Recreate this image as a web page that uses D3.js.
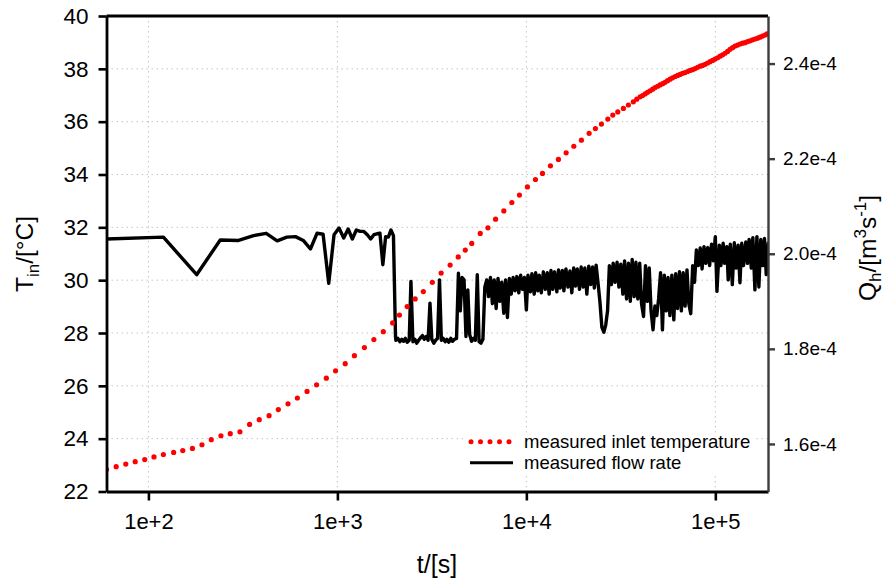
<!DOCTYPE html>
<html>
<head>
<meta charset="utf-8">
<script src="https://cdn.jsdelivr.net/npm/d3@7"></script>
<style>
body { margin: 0; background: #fff; }
text { font-family: "Liberation Sans", Arial, sans-serif; fill: #000; }
</style>
</head>
<body>
<svg id="chart" width="886" height="585"></svg>
<script>
// measured inlet temperature (t in s, T in °C)
const tempTime = [60, 67.5, 75.9, 85.1, 95.6, 107, 120, 136, 152, 171,
    192, 215, 242, 271, 305, 343, 386, 435, 487, 548,
    614, 691, 776, 874, 978, 1100, 1230, 1390, 1560, 1750,
    1960, 2130, 2340, 2580, 2850, 3180, 3540, 3950, 4360, 4750,
    5140, 5700, 6260, 6870, 7600, 8380, 9190, 10130, 11170, 12170,
    13410, 14780, 16240, 17830, 19550, 21480, 23200, 24960, 26980, 28670,
    30460, 32620, 34660, 36830, 38400,
    40000, 41200, 42500, 43800, 45200, 46600, 48000, 49500, 51000, 52600,
    54200, 55900, 57600, 59400, 61300, 63200, 65100, 67100, 69200, 71300,
    73500, 75800, 78200, 80600, 83100, 85600, 88300, 91000, 93800, 96700,
    99700, 102800, 106000, 109200, 112600, 116100, 119700, 123400, 127200, 131100,
    135200, 139400, 143700, 148100, 152700, 157400, 162300, 167300, 172500, 177800,
    183300, 187800];
const tempValue = [22.83, 22.94, 23.04, 23.13, 23.21, 23.31, 23.40, 23.48, 23.55, 23.63,
    23.77, 23.96, 24.11, 24.19, 24.26, 24.54, 24.72, 24.87, 25.10, 25.32,
    25.54, 25.79, 26.04, 26.29, 26.57, 26.84, 27.14, 27.45, 27.75, 28.05,
    28.38, 28.68, 29.00, 29.29, 29.57, 29.92, 30.27, 30.57, 30.88, 31.14,
    31.39, 31.77, 31.98, 32.31, 32.62, 32.94, 33.22, 33.53, 33.81, 34.04,
    34.33, 34.57, 34.82, 35.07, 35.30, 35.56, 35.74, 35.91, 36.10, 36.25,
    36.37, 36.50, 36.63, 36.75, 36.85,
    36.94, 36.99, 37.05, 37.11, 37.17, 37.23, 37.29, 37.34, 37.39, 37.44,
    37.49, 37.55, 37.61, 37.66, 37.71, 37.75, 37.79, 37.83, 37.86, 37.90,
    37.94, 37.97, 38.01, 38.06, 38.10, 38.13, 38.17, 38.22, 38.27, 38.32,
    38.37, 38.42, 38.48, 38.53, 38.59, 38.66, 38.74, 38.80, 38.86, 38.90,
    38.94, 38.97, 38.99, 39.03, 39.06, 39.10, 39.13, 39.16, 39.20, 39.24,
    39.28, 39.32];

// measured flow rate (t in s, Q in 1e-4 m^3/s)
const flowTime = [60, 120, 180, 240, 300, 360, 420, 480, 540, 600,
    660, 720, 780, 840, 900, 960, 1020, 1080, 1140, 1200,
    1260, 1320, 1380, 1440, 1500, 1560, 1620, 1680, 1740, 1800,
    1860, 1920, 1980,
    2030, 2040, 2090, 2140, 2190, 2240, 2290, 2340, 2400, 2450,
    2510, 2570, 2630, 2690, 2750, 2820, 2880, 2950, 3020, 3090,
    3160, 3240, 3310, 3390, 3470, 3550, 3630, 3720, 3800, 3890,
    3980, 4070, 4170, 4270, 4370, 4470, 4570, 4680, 4790, 4900,
    5010, 5130, 5250, 5370, 5500, 5620, 5750, 5890, 6030, 6170,
    6310, 6460, 6610, 6760, 6920, 7080, 7240, 7410, 7590, 7760,
    7940, 8130, 8320, 8510, 8710, 8910, 9120, 9330, 9550, 9770,
    10000, 10200, 10500, 10700, 11000, 11200, 11500, 11700, 12000, 12300,
    12600, 12900, 13200, 13500, 13800, 14100, 14500, 14800, 15100, 15500,
    15800, 16200, 16600, 17000, 17400, 17800, 18200, 18600, 19100, 19500,
    20000, 20400, 20900, 21400, 21900, 22400, 22900, 23400, 24000, 24500,
    25100, 25700, 26300, 26900, 27500, 28200, 28800, 29500, 30200, 30900,
    31600, 32400, 33100, 33900, 34700, 35500, 36300, 37200, 38000, 38900,
    39800, 40700, 41700, 42700, 43700, 44700, 45700, 46800, 47900, 49000,
    50100, 51300, 52500, 53700, 55000, 56200, 57500, 58900, 60300, 61700,
    63100, 64600, 66100, 67600, 69200, 70800, 72400, 74100, 75900, 77600,
    79400, 81300, 83200, 85100, 87100, 89100, 91200, 93300, 95500, 97700,
    100000, 102000, 105000, 107000, 110000, 112000, 115000, 117000, 120000, 123000,
    126000, 129000, 132000, 135000, 138000, 141000, 145000, 148000, 151000, 155000,
    158000, 162000, 166000, 170000, 174000, 178000, 182000, 186000, 191000];
const flowValue = [2.031, 2.035, 1.956, 2.029, 2.028, 2.038, 2.043, 2.027, 2.035, 2.036,
    2.028, 2.010, 2.043, 2.041, 1.938, 2.040, 2.054, 2.033, 2.052, 2.031,
    2.050, 2.047, 2.047, 2.040, 2.031, 2.040, 2.042, 2.043, 1.977, 2.036,
    2.035, 2.050, 2.038,
    1.826, 1.818, 1.822, 1.815, 1.820, 1.816, 1.822, 1.814, 1.818, 1.942,
    1.815, 1.820, 1.812, 1.818, 1.823, 1.828, 1.820, 1.826, 1.818, 1.896,
    1.820, 1.812, 1.818, 1.822, 1.945, 1.818, 1.822, 1.815, 1.820, 1.814,
    1.822, 1.816, 1.820, 1.822, 1.959, 1.880, 1.950, 1.945, 1.826, 1.924,
    1.830, 1.816, 1.822, 1.818, 1.956, 1.815, 1.812, 1.820, 1.930, 1.945,
    1.910, 1.950, 1.895, 1.945, 1.885, 1.948, 1.900, 1.940, 1.875, 1.945,
    1.866, 1.948, 1.915, 1.950, 1.922, 1.952, 1.918, 1.955, 1.925, 1.950,
    1.882, 1.955, 1.920, 1.958, 1.915, 1.960, 1.922, 1.955, 1.918, 1.962,
    1.925, 1.960, 1.915, 1.965, 1.925, 1.962, 1.920, 1.966, 1.928, 1.965,
    1.922, 1.968, 1.930, 1.964, 1.918, 1.970, 1.932, 1.968, 1.925, 1.972,
    1.930, 1.970, 1.915, 1.974, 1.935, 1.972, 1.928, 1.976, 1.935, 1.900,
    1.845, 1.835, 1.850, 1.880, 1.975, 1.935, 1.980, 1.940, 1.982, 1.930,
    1.978, 1.915, 1.985, 1.905, 1.980, 1.900, 1.988, 1.910, 1.982, 1.905,
    1.980, 1.895, 1.868, 1.975, 1.900, 1.970, 1.880, 1.840, 1.890, 1.870,
    1.905, 1.960, 1.840, 1.955, 1.880, 1.950, 1.870, 1.955, 1.861, 1.958,
    1.885, 1.962, 1.880, 1.960, 1.890, 1.966, 1.895, 1.874, 1.975, 1.940,
    2.008, 1.975, 2.012, 1.968, 2.015, 1.980, 2.013, 1.975, 2.020, 1.985,
    2.036, 1.921, 2.018, 1.975, 2.022, 1.980, 2.015, 1.945, 2.020, 1.935,
    2.023, 1.970, 2.018, 1.939, 2.022, 1.975, 2.025, 1.980, 2.030, 1.970,
    2.034, 1.924, 2.036, 1.930, 2.030, 1.975, 2.032, 1.956, 2.025];

const xTicks = [1e2, 1e3, 1e4, 1e5];
const xTickLabels = ["1e+2", "1e+3", "1e+4", "1e+5"];
const leftTicks = [22, 24, 26, 28, 30, 32, 34, 36, 38, 40];
const rightTicks = [1.6, 1.8, 2.0, 2.2, 2.4];
const rightTickLabels = ["1.6e-4", "1.8e-4", "2.0e-4", "2.2e-4", "2.4e-4"];
const legendLabels = ["measured inlet temperature", "measured flow rate"];

const svg = d3.select("#chart");
const L = 106.5, R = 768, T = 16, B = 491.5;

const x = d3.scaleLog().domain([60, 1.9e5]).range([L, R]);
const yT = d3.scaleLinear().domain([22, 40]).range([B, T]);
const yQ = d3.scaleLinear().domain([1.5, 2.5]).range([B, T]);

// grid
const grid = svg.append("g").attr("stroke", "#c4c4c4").attr("stroke-width", 1)
    .attr("stroke-dasharray", "1.5,3.5");
grid.selectAll("line.h").data(leftTicks.slice(1, -1)).join("line").attr("class", "h")
    .attr("x1", L).attr("x2", R).attr("y1", d => yT(d)).attr("y2", d => yT(d));
grid.selectAll("line.v").data(xTicks).join("line").attr("class", "v")
    .attr("y1", T).attr("y2", B).attr("x1", d => x(d)).attr("x2", d => x(d));

svg.append("clipPath").attr("id", "plot")
    .append("rect").attr("x", L).attr("y", T).attr("width", R - L).attr("height", B - T);

// flow rate line
const flowLine = d3.line()
    .x(i => x(flowTime[i]))
    .y(i => yQ(flowValue[i]));
svg.append("path")
    .attr("clip-path", "url(#plot)")
    .attr("d", flowLine(d3.range(flowTime.length)))
    .attr("fill", "none").attr("stroke", "#000").attr("stroke-width", 3.4)
    .attr("stroke-linejoin", "round");

// temperature dots
svg.append("g").attr("clip-path", "url(#plot)")
    .selectAll("circle").data(d3.range(tempTime.length)).join("circle")
    .attr("cx", i => x(tempTime[i])).attr("cy", i => yT(tempValue[i]))
    .attr("r", 2.6).attr("fill", "#ff0000");

// frame
svg.append("line").attr("x1", L).attr("x2", R).attr("y1", T).attr("y2", T)
    .attr("stroke", "#000").attr("stroke-width", 2.8);

// axes
const leftAxis = svg.append("g").attr("transform", `translate(${L},0)`)
    .call(d3.axisLeft(yT).tickValues(leftTicks).tickSize(8).tickSizeOuter(0).tickPadding(10));
const bottomAxis = svg.append("g").attr("transform", `translate(0,${B})`)
    .call(d3.axisBottom(x).tickValues(xTicks).tickSize(9).tickSizeOuter(0).tickPadding(13)
        .tickFormat((d, i) => xTickLabels[i]));
const rightAxis = svg.append("g").attr("transform", `translate(${R},0)`)
    .call(d3.axisRight(yQ).tickValues(rightTicks).tickSize(7).tickSizeOuter(0).tickPadding(8)
        .tickFormat((d, i) => rightTickLabels[i]));

[leftAxis, bottomAxis].forEach(g => {
    g.select(".domain").attr("stroke", "#000").attr("stroke-width", 2.8);
    g.selectAll(".tick line").attr("stroke", "#000").attr("stroke-width", 2.6);
});
rightAxis.select(".domain").attr("stroke", "#3c3c3c").attr("stroke-width", 2.4);
rightAxis.selectAll(".tick line").attr("stroke", "#3c3c3c").attr("stroke-width", 2.4);
leftAxis.selectAll("text").attr("font-size", 22.5);
bottomAxis.selectAll("text").attr("font-size", 22);
rightAxis.selectAll("text").attr("font-size", 19);
[leftAxis, bottomAxis, rightAxis].forEach(g => g.attr("font-family", null));

// legend
const lg = svg.append("g");
lg.append("rect").attr("x", 466).attr("y", 433).attr("width", 288).attr("height", 40).attr("fill", "#fff");
lg.selectAll("circle").data([471, 480.5, 490, 499.5, 509]).join("circle")
    .attr("cx", d => d).attr("cy", 441.7).attr("r", 2.5).attr("fill", "#ff0000");
lg.append("line").attr("x1", 470).attr("x2", 513).attr("y1", 462.7).attr("y2", 462.7)
    .attr("stroke", "#000").attr("stroke-width", 3);
lg.selectAll("text").data(legendLabels).join("text")
    .attr("x", 524).attr("y", (d, i) => 447.5 + i * 21.6)
    .attr("font-size", 18.5).text(d => d);

// axis titles
const tl = svg.append("text").attr("transform", "translate(33,254) rotate(-90)")
    .attr("text-anchor", "middle").attr("font-size", 24.5);
tl.append("tspan").text("T");
tl.append("tspan").attr("font-size", 17).attr("dy", 6).text("in");
tl.append("tspan").attr("dy", -6).text("/[°C]");

const tr = svg.append("text").attr("transform", "translate(876,248) rotate(-90)")
    .attr("text-anchor", "middle").attr("font-size", 24.5);
tr.append("tspan").text("Q");
tr.append("tspan").attr("font-size", 17).attr("dy", 5).text("h");
tr.append("tspan").attr("dy", -5).text("/[m");
tr.append("tspan").attr("font-size", 17).attr("dy", -10).text("3");
tr.append("tspan").attr("dy", 10).text("s");
tr.append("tspan").attr("font-size", 17).attr("dy", -10).text("-1");
tr.append("tspan").attr("dy", 10).text("]");

svg.append("text").attr("x", 437).attr("y", 573).attr("text-anchor", "middle")
    .attr("font-size", 25).text("t/[s]");
</script>
</body>
</html>
